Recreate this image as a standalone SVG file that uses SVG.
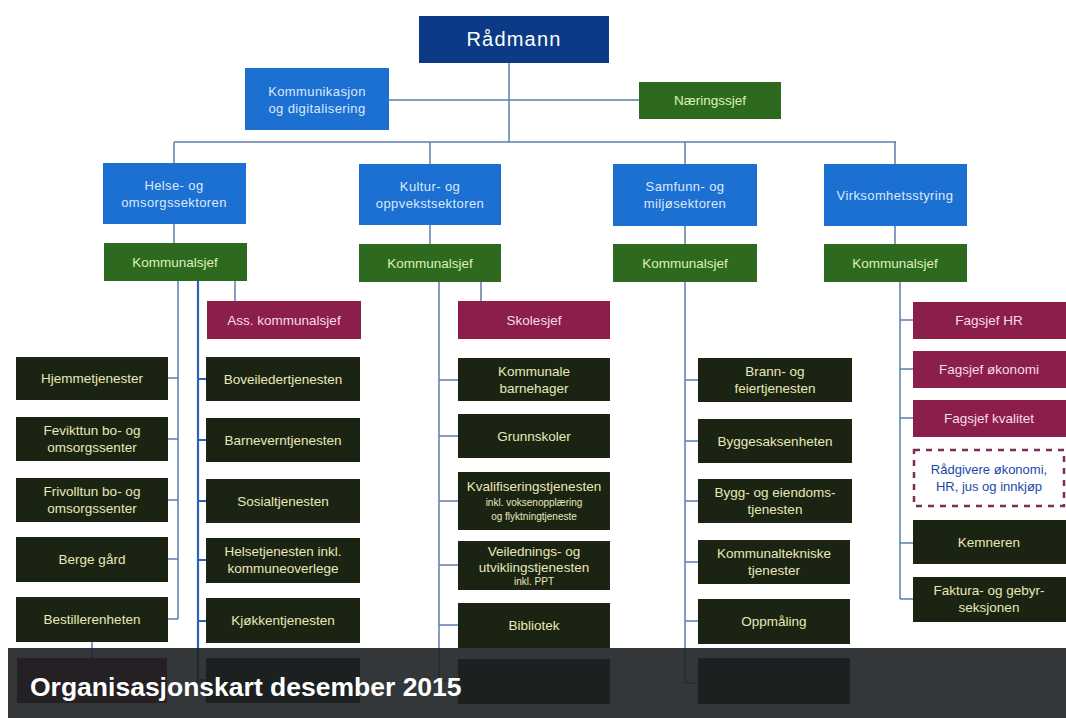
<svg xmlns="http://www.w3.org/2000/svg" width="1066" height="718" viewBox="0 0 1066 718">
<style>
text{font-family:"Liberation Sans",Arial,sans-serif;text-anchor:middle}
.top{fill:#0c3a86}
.blue{fill:#1b70d2}
.green{fill:#2d6a1f}
.mag{fill:#8b1e4b}
.dark{fill:#1b2313}
.hid{fill:#101412}
.tw{fill:#ffffff;font-size:20px;letter-spacing:1.2px}
.tb{fill:#dbe9ff;font-size:13px;letter-spacing:0.4px}
.tg{fill:#dcf2b8;font-size:13.5px}
.tm{fill:#f6dce8;font-size:13.5px}
.td{fill:#e8e8b8;font-size:13.5px}
.ts{fill:#e8e8b8;font-size:10px}
.ln{stroke:#5b7fae;stroke-width:1.5;fill:none}
.lnb{stroke:#2b62b6;stroke-width:2.2;fill:none}
</style>
<rect width="1066" height="718" fill="#ffffff"/>

<g id="connectors">
<path class="ln" d="M509 63V142M389 100H639M174 142H896M174 142V163M430 142V164M685 142V164M895 142V164"/>
<path class="ln" d="M174 224V243M430 225V244M685 226V244M895 226V244"/>
<path class="ln" d="M178 281V619M168 378H178M168 439H178M168 500H178M168 559H178M168 619H178M92 642V658"/>
<path class="lnb" d="M198 281V690M198 379H206M198 440H206M198 501H206M198 560H206M198 621H206M198 680H206"/>
<path class="ln" d="M235 281V301"/>
<path class="ln" d="M439 282V690M481 282V301M439 380H458M439 436H458M439 501H458M439 565H458M439 625H458M439 681H458"/>
<path class="ln" d="M685 282V683M685 380H698M685 441H698M685 501H698M685 562H698M685 621H698M685 683H698"/>
<path class="ln" d="M900 282V599M900 320H913M900 369H913M900 418H913M900 543H913M900 599H913"/>
</g>

<g id="n-radmann"><rect class="top" x="419" y="16" width="190" height="47"/><text class="tw" x="514" y="46">Rådmann</text></g>
<g id="n-kommunikasjon"><rect class="blue" x="245" y="68" width="144" height="62"/><text class="tb" x="317" y="96">Kommunikasjon</text><text class="tb" x="317" y="113">og digitalisering</text></g>
<g id="n-naeringssjef"><rect class="green" x="639" y="82" width="142" height="37"/><text class="tg" x="710" y="105">Næringssjef</text></g>

<g id="n-helse"><rect class="blue" x="103" y="163" width="143" height="61"/><text class="tb" x="174" y="190">Helse- og</text><text class="tb" x="174" y="207">omsorgssektoren</text></g>
<g id="n-kultur"><rect class="blue" x="359" y="164" width="142" height="61"/><text class="tb" x="430" y="191">Kultur- og</text><text class="tb" x="430" y="208">oppvekstsektoren</text></g>
<g id="n-samfunn"><rect class="blue" x="613" y="164" width="144" height="62"/><text class="tb" x="685" y="191">Samfunn- og</text><text class="tb" x="685" y="208">miljøsektoren</text></g>
<g id="n-virksomhet"><rect class="blue" x="824" y="164" width="143" height="62"/><text class="tb" x="895" y="200">Virksomhetsstyring</text></g>

<g id="n-ks1"><rect class="green" x="104" y="243" width="143" height="38"/><text class="tg" x="175" y="267">Kommunalsjef</text></g>
<g id="n-ks2"><rect class="green" x="359" y="244" width="142" height="38"/><text class="tg" x="430" y="268">Kommunalsjef</text></g>
<g id="n-ks3"><rect class="green" x="613" y="244" width="144" height="38"/><text class="tg" x="685" y="268">Kommunalsjef</text></g>
<g id="n-ks4"><rect class="green" x="824" y="244" width="143" height="38"/><text class="tg" x="895" y="268">Kommunalsjef</text></g>

<g id="n-hjemme"><rect class="dark" x="16" y="357" width="152" height="43"/><text class="td" x="92" y="383">Hjemmetjenester</text></g>
<g id="n-fevikt"><rect class="dark" x="16" y="417" width="152" height="44"/><text class="td" x="92" y="435">Fevikttun bo- og</text><text class="td" x="92" y="452">omsorgssenter</text></g>
<g id="n-frivoll"><rect class="dark" x="16" y="478" width="152" height="44"/><text class="td" x="92" y="496">Frivolltun bo- og</text><text class="td" x="92" y="513">omsorgssenter</text></g>
<g id="n-berge"><rect class="dark" x="16" y="537" width="152" height="45"/><text class="td" x="92" y="564">Berge gård</text></g>
<g id="n-bestiller"><rect class="dark" x="16" y="597" width="152" height="45"/><text class="td" x="92" y="624">Bestillerenheten</text></g>
<g id="n-hidden1"><rect fill="#5a1626" x="17" y="658" width="150" height="45"/></g>

<g id="n-ass"><rect class="mag" x="207" y="301" width="154" height="38"/><text class="tm" x="284" y="325">Ass. kommunalsjef</text></g>
<g id="n-bovei"><rect class="dark" x="206" y="357" width="154" height="44"/><text class="td" x="283" y="384">Boveiledertjenesten</text></g>
<g id="n-barnevern"><rect class="dark" x="206" y="418" width="154" height="44"/><text class="td" x="283" y="445">Barneverntjenesten</text></g>
<g id="n-sosial"><rect class="dark" x="206" y="479" width="154" height="44"/><text class="td" x="283" y="506">Sosialtjenesten</text></g>
<g id="n-helsetj"><rect class="dark" x="206" y="538" width="154" height="45"/><text class="td" x="283" y="556">Helsetjenesten inkl.</text><text class="td" x="283" y="573">kommuneoverlege</text></g>
<g id="n-kjokken"><rect class="dark" x="206" y="598" width="154" height="45"/><text class="td" x="283" y="625">Kjøkkentjenesten</text></g>
<g id="n-hidden2"><rect class="hid" x="206" y="658" width="154" height="45"/></g>

<g id="n-skolesjef"><rect class="mag" x="458" y="301" width="152" height="38"/><text class="tm" x="534" y="325">Skolesjef</text></g>
<g id="n-barnehager"><rect class="dark" x="458" y="358" width="152" height="43"/><text class="td" x="534" y="376">Kommunale</text><text class="td" x="534" y="393">barnehager</text></g>
<g id="n-grunnskoler"><rect class="dark" x="458" y="414" width="152" height="44"/><text class="td" x="534" y="441">Grunnskoler</text></g>
<g id="n-kvalif"><rect class="dark" x="458" y="472" width="152" height="58"/><text class="td" x="534" y="491">Kvalifiseringstjenesten</text><text class="ts" x="534" y="506">inkl. voksenopplæring</text><text class="ts" x="534" y="520">og flyktningtjeneste</text></g>
<g id="n-veiled"><rect class="dark" x="458" y="541" width="152" height="49"/><text class="td" x="534" y="556">Veilednings- og</text><text class="td" x="534" y="572">utviklingstjenesten</text><text class="ts" x="534" y="585">inkl. PPT</text></g>
<g id="n-bibliotek"><rect class="dark" x="458" y="603" width="152" height="45"/><text class="td" x="534" y="630">Bibliotek</text></g>
<g id="n-hidden3"><rect class="hid" x="458" y="659" width="152" height="45"/></g>

<g id="n-brann"><rect class="dark" x="698" y="358" width="154" height="44"/><text class="td" x="775" y="376">Brann- og</text><text class="td" x="775" y="393">feiertjenesten</text></g>
<g id="n-byggesak"><rect class="dark" x="698" y="419" width="154" height="44"/><text class="td" x="775" y="446">Byggesaksenheten</text></g>
<g id="n-bygg"><rect class="dark" x="698" y="479" width="154" height="44"/><text class="td" x="775" y="497">Bygg- og eiendoms-</text><text class="td" x="775" y="514">tjenesten</text></g>
<g id="n-kommtek"><rect class="dark" x="698" y="540" width="152" height="44"/><text class="td" x="774" y="558">Kommunaltekniske</text><text class="td" x="774" y="575">tjenester</text></g>
<g id="n-oppmaling"><rect class="dark" x="698" y="599" width="152" height="45"/><text class="td" x="774" y="626">Oppmåling</text></g>
<g id="n-hidden4"><rect class="hid" x="698" y="658" width="152" height="46"/></g>

<g id="n-hr"><rect class="mag" x="913" y="302" width="153" height="37"/><text class="tm" x="989" y="325">Fagsjef HR</text></g>
<g id="n-okonomi"><rect class="mag" x="913" y="351" width="153" height="37"/><text class="tm" x="989" y="374">Fagsjef økonomi</text></g>
<g id="n-kvalitet"><rect class="mag" x="913" y="400" width="153" height="37"/><text class="tm" x="989" y="423">Fagsjef kvalitet</text></g>
<g id="n-radgivere"><rect x="914" y="450" width="150" height="56" fill="#ffffff" stroke="#7a2f5a" stroke-width="2.5" stroke-dasharray="6 6"/><text x="989" y="474" style="fill:#2149a8;font-size:13px">Rådgivere økonomi,</text><text x="989" y="491" style="fill:#2149a8;font-size:13px">HR, jus og innkjøp</text></g>
<g id="n-kemneren"><rect class="dark" x="913" y="520" width="153" height="44"/><text class="td" x="989" y="547">Kemneren</text></g>
<g id="n-faktura"><rect class="dark" x="913" y="577" width="153" height="45"/><text class="td" x="989" y="595">Faktura- og gebyr-</text><text class="td" x="989" y="612">seksjonen</text></g>

<g id="caption">
<rect x="8" y="648" width="1058" height="70" fill="#1e2124" opacity="0.9"/>
<text x="30" y="696" style="text-anchor:start;fill:#ffffff;font-size:26.5px;font-weight:bold">Organisasjonskart desember 2015</text>
</g>
</svg>
